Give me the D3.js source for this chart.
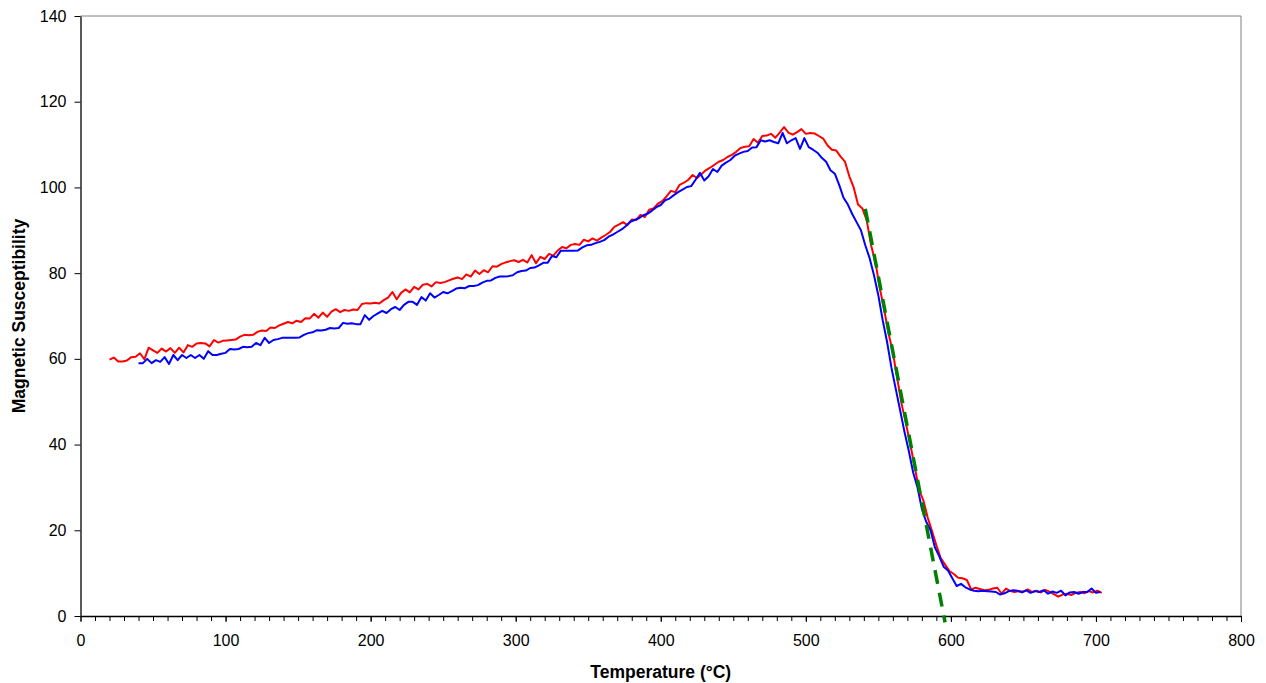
<!DOCTYPE html>
<html lang="en">
<head>
<meta charset="UTF-8">
<title>Magnetic Susceptibility vs Temperature</title>
<script src="https://cdn.jsdelivr.net/npm/d3@7"></script>
<style>
  body { margin: 0; background: #fff; }
  svg { font-family: "Liberation Sans", Arial, sans-serif; }
</style>
</head>
<body>
<svg width="1266" height="683"></svg>
<script>
// sampling: both runs logged every 3 degrees
var stepT = 3;
var heatingStart = 20;   // red run
var coolingStart = 40;   // blue run

var heatingValues = [
  59.8,60.3,59.4,59.4,59.6,60.4,60.5,61.3,59.9,62.6,62.0,61.4,62.4,61.7,62.5,61.4,62.6,61.5,63.2,62.8,
  63.6,63.7,63.6,62.9,64.4,63.8,64.2,64.3,64.4,64.5,65.2,65.6,65.5,65.6,66.3,66.6,66.5,67.3,67.2,67.8,
  68.2,68.6,68.3,68.9,68.6,69.5,69.4,70.5,69.6,70.8,69.8,71.0,71.6,70.9,71.4,71.2,71.5,71.4,72.8,73.0,
  72.9,73.1,72.9,73.7,74.3,75.6,73.9,75.4,76.2,75.5,76.8,76.2,77.3,77.5,76.9,77.9,77.7,77.9,78.3,78.7,
  79.0,78.6,79.7,79.2,80.6,79.8,80.7,80.2,81.6,81.5,82.1,82.5,82.8,83.0,82.6,83.1,82.5,84.2,82.3,83.8,
  83.3,84.5,84.1,85.3,86.1,85.8,86.6,86.8,86.6,87.8,87.4,88.1,87.6,88.3,88.9,89.6,90.8,91.3,91.9,91.2,
  92.5,92.4,93.6,93.1,94.8,95.1,96.2,96.8,97.9,99.2,98.9,100.6,101.1,101.8,102.9,102.2,103.1,104.0,104.6,105.3,
  106.0,106.4,107.1,107.6,108.3,109.2,109.5,109.6,111.3,110.4,112.0,112.1,112.5,111.6,112.8,114.1,112.8,112.3,112.9,113.6,
  112.5,112.7,112.6,112.0,111.4,109.8,108.8,108.6,107.2,106.0,102.6,100.0,96.0,95.1,92.3,86.5,82.5,76.5,71.5,66.0,
  61.5,55.5,49.5,45.0,40.0,35.0,29.5,27.0,23.0,19.8,16.5,13.5,12.0,10.5,9.8,8.9,8.8,8.4,6.2,6.6,
  6.3,6.0,6.1,6.4,6.6,5.2,6.4,5.8,5.6,5.8,5.7,6.2,5.6,5.9,5.5,6.1,5.7,5.1,4.5,5.0,
  5.2,4.9,5.4,5.6,5.3,5.8,5.5,5.9,5.4
];

var coolingValues = [
  59.0,59.0,60.0,59.0,59.7,59.3,60.4,58.8,60.9,59.7,60.9,60.2,60.9,60.2,60.9,60.0,61.8,60.9,60.9,61.2,
  61.4,62.3,62.2,62.3,62.8,62.7,62.8,63.7,63.2,64.9,63.7,64.4,64.6,64.9,64.9,64.9,64.9,65.0,65.6,66.0,
  66.2,66.7,66.6,66.8,67.2,67.1,67.2,68.4,68.2,68.3,68.1,68.1,70.2,69.1,70.0,70.6,71.2,70.7,71.6,72.1,
  71.4,72.6,73.3,73.3,72.6,74.4,73.6,75.3,74.3,74.9,75.6,75.3,75.8,76.4,76.6,76.5,77.0,77.0,77.2,77.8,
  78.2,78.3,78.9,79.2,79.2,79.3,79.5,80.2,80.5,80.6,81.2,81.3,81.8,82.4,82.4,84.0,83.7,85.2,85.2,85.2,
  85.2,85.3,86.0,86.5,86.6,87.0,87.3,87.7,88.5,89.0,89.6,90.2,91.0,92.0,92.4,92.8,93.5,93.9,94.6,95.4,
  95.9,97.0,97.4,98.2,98.9,99.5,100.1,100.3,101.8,103.4,101.6,102.6,104.3,103.6,105.1,105.8,106.4,107.4,107.9,108.3,
  108.5,109.3,109.4,111.0,110.7,111.0,110.6,110.3,112.7,110.3,111.0,111.5,109.0,111.5,109.4,108.8,108.1,106.9,106.0,104.0,
  103.2,100.6,97.6,96.0,93.8,91.9,90.0,86.5,83.5,79.5,74.8,69.0,64.0,58.0,53.0,48.0,43.0,38.5,33.5,30.0,
  25.0,22.0,20.0,16.0,13.9,11.5,10.6,8.8,7.0,7.5,6.7,6.2,5.9,5.8,5.9,5.8,5.7,5.6,5.0,5.3,
  5.8,6.0,5.9,5.5,6.0,5.4,5.8,5.6,6.0,5.2,5.7,5.4,5.9,4.8,5.5,5.6,5.2,5.6,5.6,6.4,
  5.4,5.6
];

// tangent used to pick the Curie point
var tangentT = [541, 596];
var tangentV = [95, -1.5];

var xTicks = [0, 100, 200, 300, 400, 500, 600, 700, 800];
var yTicks = [0, 20, 40, 60, 80, 100, 120, 140];

var svg = d3.select("svg");
var margin = {top: 16, right: 25, bottom: 67, left: 80.5};
var width = 1266 - margin.left - margin.right;
var height = 683 - margin.top - margin.bottom;

var g = svg.append("g")
    .attr("transform", "translate(" + margin.left + "," + margin.top + ")");

var x = d3.scaleLinear().domain([0, 800]).range([0, width]);
var y = d3.scaleLinear().domain([0, 140]).range([height, 0]);

// build point lists from the value arrays
function toPoints(start, vals) {
  return vals.map(function(v, i) { return {t: start + i * stepT, v: v}; });
}
var heating = toPoints(heatingStart, heatingValues);
var cooling = toPoints(coolingStart, coolingValues);
var tangent = tangentT.map(function(t, i) { return {t: t, v: tangentV[i]}; });

// frame: grey top and right edges
g.append("line").attr("x1", 0).attr("x2", width).attr("y1", 0).attr("y2", 0)
  .attr("stroke", "#808080").attr("stroke-width", 1);
g.append("line").attr("x1", width).attr("x2", width).attr("y1", 0).attr("y2", height)
  .attr("stroke", "#808080").attr("stroke-width", 1);

// minor x ticks every 10
g.append("g")
  .attr("transform", "translate(0," + height + ")")
  .call(d3.axisBottom(x).tickValues(d3.range(0, 801, 10)).tickSize(5).tickFormat(""))
  .call(function(a) { a.select(".domain").remove(); a.selectAll("line").attr("stroke", "#000"); });

// x axis
var xAxis = g.append("g")
  .attr("transform", "translate(0," + height + ")")
  .call(d3.axisBottom(x).tickValues(xTicks).tickSize(6).tickPadding(13).tickSizeOuter(0));
xAxis.selectAll("text").attr("font-size", "16px").attr("fill", "#000")
  .style("font-family", "Liberation Sans, Arial, sans-serif");
xAxis.select(".domain").attr("stroke", "#000").attr("stroke-width", 1.3);

// y axis
var yAxis = g.append("g")
  .call(d3.axisLeft(y).tickValues(yTicks).tickSize(6).tickPadding(8).tickSizeOuter(0));
yAxis.selectAll("text").attr("font-size", "16px").attr("fill", "#000")
  .style("font-family", "Liberation Sans, Arial, sans-serif");
yAxis.select(".domain").attr("stroke", "#000").attr("stroke-width", 1.3);

var line = d3.line()
  .x(function(d) { return x(d.t); })
  .y(function(d) { return y(d.v); });

g.append("path").datum(heating)
  .attr("fill", "none").attr("stroke", "#ff0000").attr("stroke-width", 2)
  .attr("stroke-linejoin", "round").attr("d", line);

g.append("path").datum(cooling)
  .attr("fill", "none").attr("stroke", "#0000ff").attr("stroke-width", 2)
  .attr("stroke-linejoin", "round").attr("d", line);

g.append("path").datum(tangent)
  .attr("fill", "none").attr("stroke", "#008000").attr("stroke-width", 3.5)
  .attr("stroke-dasharray", "14,9").attr("d", line);

// axis titles
svg.append("text")
  .attr("x", margin.left + width / 2).attr("y", 678)
  .attr("text-anchor", "middle").attr("font-size", "17.5px").attr("font-weight", "bold")
  .text("Temperature (°C)");

svg.append("text")
  .attr("transform", "translate(25," + (margin.top + height / 2) + ") rotate(-90)")
  .attr("text-anchor", "middle").attr("font-size", "17.5px").attr("font-weight", "bold")
  .text("Magnetic Susceptibility");
</script>
</body>
</html>
